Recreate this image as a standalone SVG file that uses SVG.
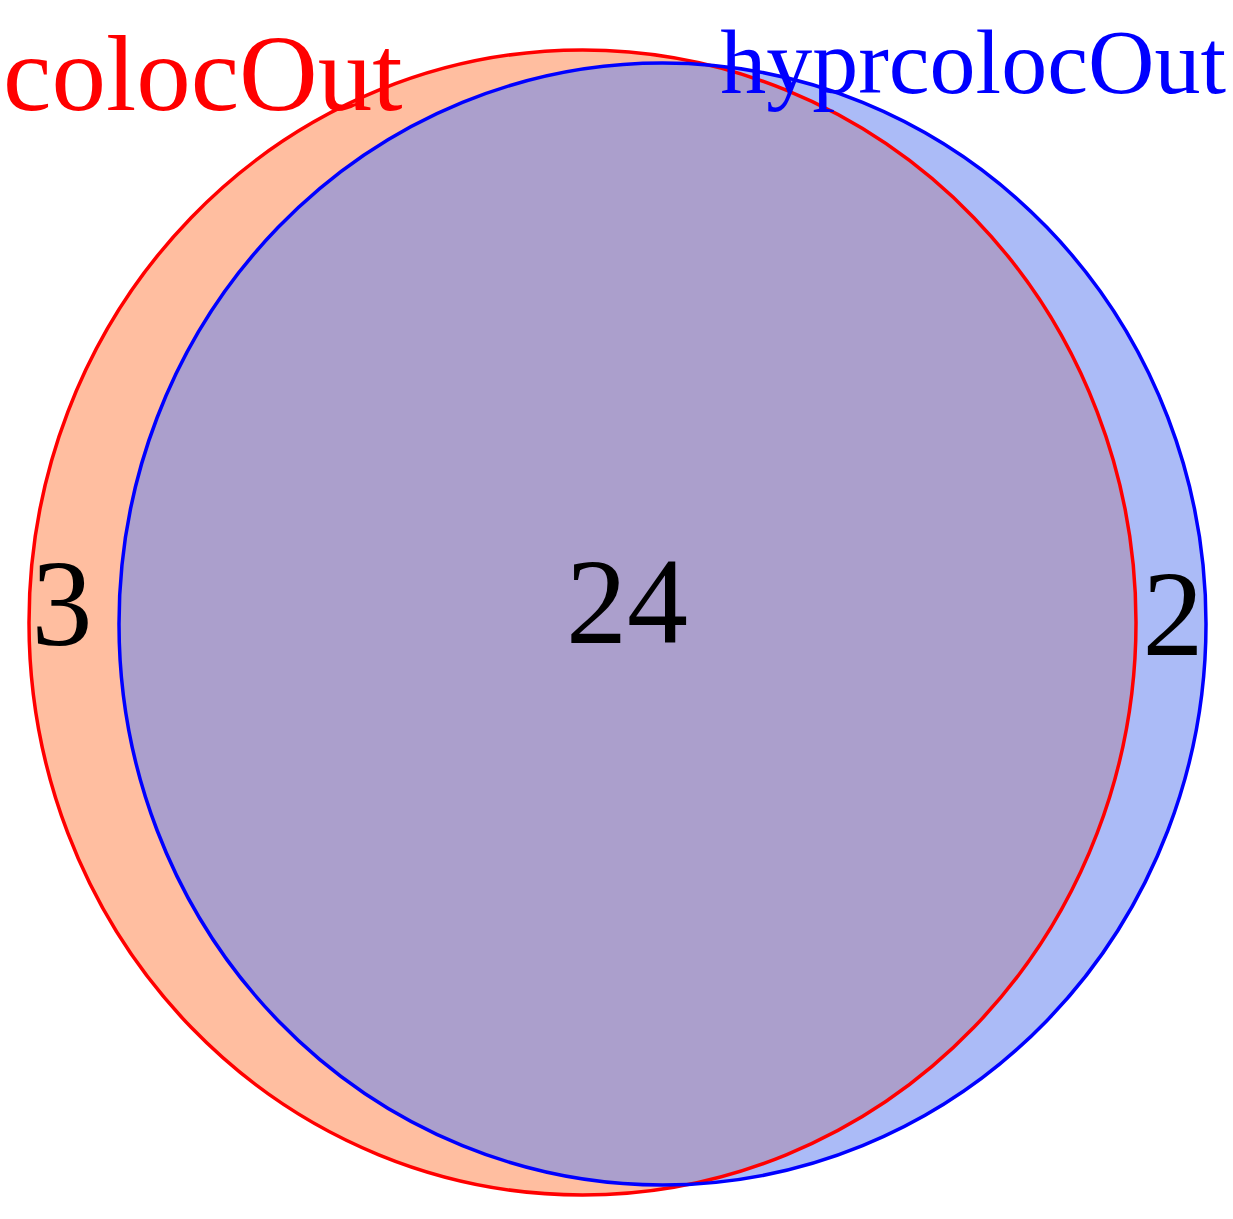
<svg xmlns="http://www.w3.org/2000/svg" width="1233" height="1219" viewBox="0 0 1233 1219">
<style>
.num{font-family:"Liberation Serif","Times New Roman",serif;font-size:122px;fill:#000;text-anchor:middle}
.lbl{font-family:"Liberation Serif","Times New Roman",serif}
</style>
<defs>
<clipPath id="clipRed"><ellipse cx="582.5" cy="622.5" rx="553.5" ry="572.5"/></clipPath>
</defs>
<rect width="1233" height="1219" fill="#fff"/>
<g id="setA-fill"><ellipse cx="582.5" cy="622.5" rx="553.5" ry="572.5" fill="#FFBEA0"/></g>
<g id="setB-fill"><ellipse cx="662.5" cy="624" rx="543.5" ry="561" fill="#ABBBF7"/></g>
<g id="overlap"><ellipse cx="662.5" cy="624" rx="543.5" ry="561" fill="#AB9FCC" clip-path="url(#clipRed)"/></g>
<g id="outlines" fill="none" stroke-width="3.5">
<ellipse cx="582.5" cy="622.5" rx="553.5" ry="572.5" stroke="#FF0000"/>
<ellipse cx="662.5" cy="624" rx="543.5" ry="561" stroke="#0000FF"/>
</g>
<g id="labels">
<text class="lbl" x="3" y="110" font-size="109" fill="#FF0000">colocOut</text>
<text class="lbl" x="1226" y="93" font-size="92" fill="#0000FF" text-anchor="end">hyprcolocOut</text>
</g>
<g id="counts">
<text class="num" x="62" y="645">3</text>
<text class="num" x="627" y="643">24</text>
<text class="num" x="1173" y="655">2</text>
</g>
</svg>
